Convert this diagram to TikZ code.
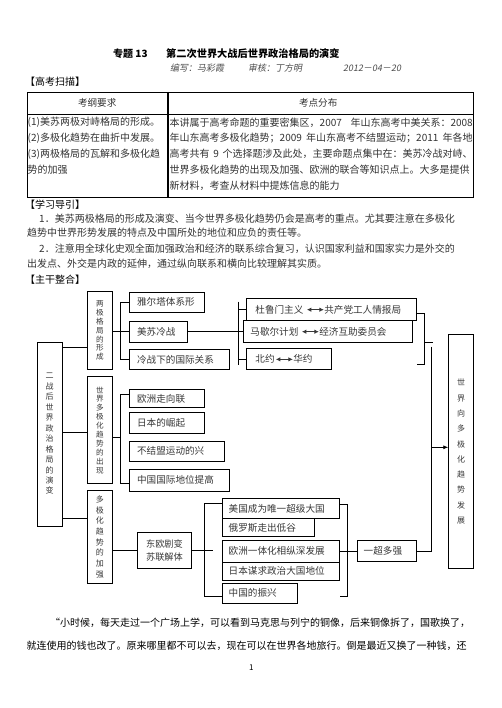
\documentclass[tikz,border=0pt]{standalone}
\usepackage{fontspec}
\setmainfont{Noto Sans CJK SC}
\newfontfamily\slfont[FakeSlant=0.18]{Noto Sans CJK SC}
\usetikzlibrary{arrows.meta}
\XeTeXlinebreaklocale "zh"
\XeTeXlinebreakskip=0pt plus 1fil
\newcommand{\jw}[2]{\hbox to #1pt{#2}}
\newcommand{\bc}[3]{\hbox to #1pt{\hskip#2pt\relax#3\hss}}
\newcommand{\dar}[1]{\tikz[baseline=-3.5pt]\draw[line width=0.9pt,{Latex[length=4.5pt,width=4.5pt]}-{Latex[length=4.5pt,width=4.5pt]}] (0pt,0pt) -- (#1pt,0pt);}
\begin{document}
\begin{tikzpicture}[x=1pt,y=-1pt,
  txt/.style={inner sep=0pt, anchor=west, text=black!80, font=\fontsize{10}{12}\selectfont},
  bx/.style={draw=black, line width=0.8pt, inner sep=0pt, anchor=north west, text=black!78, font=\fontsize{9.6}{12}\selectfont},
  vbx/.style={draw=black, line width=0.8pt, inner sep=0pt, anchor=north west, text=black!78, align=center},
  ln/.style={line width=0.8pt, draw=black}]
\useasboundingbox (0,0) rectangle (502,708);
\fill[white] (0,0) rectangle (502,708);

% ---- heading ----
\node[txt, text=black, font=\fontsize{10}{12}\selectfont\bfseries] (t1) at (113,54) {\hbox{专题 13}};
\node[txt, text=black, font=\fontsize{10.2}{12}\selectfont\bfseries] (t2) at (166,54) {\jw{175}{第二次世界大战后世界政治格局的演变}};
\node[txt, text=black!70, font=\fontsize{9}{12}\slfont] (s1) at (170,68) {\jw{55}{编写：马彩霞}};
\node[txt, text=black!70, font=\fontsize{9}{12}\slfont] (s2) at (248,68) {\jw{60}{审核：丁方明}};
\node[txt, text=black!70, font=\fontsize{9}{12}\slfont] (s3) at (343,68) {\hbox{2012－04－20}};
\node[txt, text=black] (g1) at (25,82) {\jw{62}{【高考扫描】}};

% ---- table ----
\draw[line width=0.8pt] (27,92) rectangle (473,197);
\draw[line width=0.8pt] (27,114) -- (473,114);
\draw[line width=1.4pt] (168,92) -- (168,197);
\node[txt, anchor=center, font=\fontsize{9.6}{12}\selectfont] (h1) at (97.5,102.5) {\jw{39}{考纲要求}};
\node[txt, anchor=center, font=\fontsize{9.6}{12}\selectfont] (h2) at (319.5,102.5) {\jw{41}{考点分布}};
\node[txt] (l1) at (27.5,122.7) {\jw{138}{(1)美苏两极对峙格局的形成。}};
\node[txt] (l2) at (27.5,138.5) {\jw{138}{(2)多极化趋势在曲折中发展。}};
\node[txt] (l3) at (27.5,154.2) {\jw{139}{(3)两极格局的瓦解和多极化趋}};
\node[txt] (l4) at (27.5,170) {\hbox{势的加强}};
\node[txt] (q1) at (169.5,122.7) {\jw{303}{本讲属于高考命题的重要密集区，2007 年山东高考中美关系：2008}};
\node[txt] (q2) at (169.5,138.5) {\jw{303}{年山东高考多极化趋势；2009 年山东高考不结盟运动；2011 年各地}};
\node[txt] (q3) at (169.5,154.2) {\jw{303}{高考共有 9 个选择题涉及此处，主要命题点集中在：美苏冷战对峙、}};
\node[txt] (q4) at (169.5,170) {\jw{303}{世界多极化趋势的出现及加强、欧洲的联合等知识点上。大多是提供}};
\node[txt] (q5) at (169.5,185.7) {\hbox{新材料，考查从材料中提炼信息的能力}};

% ---- guide ----
\node[txt, text=black] (g2) at (25,205) {\jw{62}{【学习导引】}};
\node[txt] (p1) at (39,219) {\hbox{1．美苏两极格局的形成及演变、当今世界多极化趋势仍会是高考的重点。尤其要注意在多极化}};
\node[txt] (p2) at (27,233) {\hbox{趋势中世界形势发展的特点及中国所处的地位和应负的责任等。}};
\node[txt] (p3) at (39,249) {\hbox{2．注意用全球化史观全面加强政治和经济的联系综合复习，认识国家利益和国家实力是外交的}};
\node[txt] (p4) at (27,264) {\hbox{出发点、外交是内政的延伸，通过纵向联系和横向比较理解其实质。}};
\node[txt, text=black] (g3) at (25,280) {\jw{62}{【主干整合】}};

% ---- diagram: vertical boxes ----
\node[vbx, minimum width=25.2, minimum height=183.8, font=\fontsize{8}{10.45}\selectfont] (V0) at (36.5,341.7) {二\\战\\后\\世\\界\\政\\治\\格\\局\\的\\演\\变};
\node[vbx, minimum width=25.6, minimum height=78.3, font=\fontsize{7.6}{8.9}\selectfont] (V1) at (86.7,291) {两\\极\\格\\局\\的\\形\\成};
\node[vbx, minimum width=25.6, minimum height=107, font=\fontsize{7.6}{8.9}\selectfont] (V2) at (86.7,376.3) {世\\界\\多\\极\\化\\趋\\势\\的\\出\\现};
\node[vbx, minimum width=25.6, minimum height=92.7, font=\fontsize{8}{10.7}\selectfont] (V3) at (86.7,490) {多\\极\\化\\趋\\势\\的\\加\\强};
\node[vbx, minimum width=25, minimum height=234, font=\fontsize{8}{15.3}\selectfont] (VR) at (448.3,334.3) {世\\界\\向\\多\\极\\化\\趋\\势\\发\\展};

% ---- diagram: boxes ----
\node[bx, minimum height=20] (A1) at (129.3,291.7) {\bc{74.7}{7.4}{\jw{60}{雅尔塔体系形}}};
\node[bx, minimum height=21] (A2) at (129.3,320.7) {\bc{58}{7.4}{\jw{40}{美苏冷战}}};
\node[bx, minimum height=20.3] (A3) at (129.3,349) {\bc{100}{7.4}{\jw{81.7}{冷战下的国际关系}}};
\node[bx, minimum height=21.7] (B1) at (246,298.3) {\bc{169.7}{9}{\jw{51}{杜鲁门主义}\dar{17}\jw{81}{共产党工人情报局}}};
\node[bx, minimum height=22.3] (B2) at (242.7,320) {\bc{169}{7.3}{\jw{51}{马歇尔计划}\dar{17}\jw{71.7}{经济互助委员会}}};
\node[bx, minimum height=21] (B3) at (246,348.3) {\bc{84.7}{9}{\jw{20}{北约}\dar{17}\jw{20}{华约}}};
\node[bx, minimum height=18] (C1) at (129.3,389) {\bc{74.7}{7.4}{\jw{60}{欧洲走向联}}};
\node[bx, minimum height=21] (C2) at (129.3,412.3) {\bc{74.7}{7.4}{\jw{50}{日本的崛起}}};
\node[bx, minimum height=20.3] (C3) at (129.3,440.7) {\bc{94.7}{7.4}{\jw{79.3}{不结盟运动的兴}}};
\node[bx, minimum height=21.7] (C4) at (129.3,469) {\bc{100}{7.4}{\jw{81.7}{中国国际地位提高}}};
\node[bx, minimum width=53.4, minimum height=35.4, align=center, font=\fontsize{9.2}{13.3}\selectfont] (D) at (137.3,532.3) {\jw{36.7}{东欧剧变}\\\jw{36.7}{苏联解体}};
\node[bx, minimum height=20.3] (E1) at (221.7,498) {\bc{117.6}{6.6}{\jw{101.7}{美国成为唯一超级大国}}};
\node[bx, minimum height=17.7] (E2) at (221.7,518.3) {\bc{92.1}{6.6}{\jw{71.7}{俄罗斯走出低谷}}};
\node[bx, minimum height=21.7] (E3) at (221.7,540) {\bc{117.6}{6.6}{\jw{101.7}{欧洲一体化相纵深发展}}};
\node[bx, minimum height=18.3] (E4) at (221.7,561.7) {\bc{117.6}{6.6}{\jw{101.7}{日本谋求政治大国地位}}};
\node[bx, minimum height=20] (E5) at (221.7,582.7) {\bc{75}{6.6}{\jw{50}{中国的振兴}}};
\node[bx, minimum height=21] (F) at (356.7,540) {\bc{59}{6.6}{\jw{41.7}{一超多强}}};

% ---- helper coordinates ----
\coordinate (k1) at (120,0);
\coordinate (k2) at (238.3,0);
\coordinate (k3) at (424,0);
\coordinate (k4) at (431.7,0);
\coordinate (k5) at (204.3,0);
\coordinate (k6) at (347.7,0);
\coordinate (k7) at (213.3,0);
\coordinate (k8) at (433,0);
\coordinate (r1) at (0,347.5);
\coordinate (r2) at (0,432.3);
\coordinate (r3) at (0,518.3);
\coordinate (r4) at (0,301.7);
\coordinate (r5) at (0,365);
\coordinate (r6) at (0,313.3);
\coordinate (r7) at (0,364);
\coordinate (r8) at (0,342.3);
\coordinate (r9) at (0,346.7);
\coordinate (r10) at (0,447.3);
\coordinate (r11) at (0,437.3);
\coordinate (r12) at (0,394.3);
\coordinate (r13) at (0,483.3);
\coordinate (r14) at (0,503.3);
\coordinate (r15) at (0,596.7);
\coordinate (r16) at (0,504.3);
\coordinate (r17) at (0,596);

% ---- connectors ----
\draw[ln] (V0.east |- r1) -- (V1.west |- r1);
\draw[ln] (V0.east |- r2) -- (V2.west |- r2);
\draw[ln] (V0.east |- r3) -- (V3.west |- r3);
\draw[ln] (V1.east |- A2.west) -- (A2.west);
\draw[ln] (A1.west) -- (A1.west -| k1) -- (A3.west -| k1) -- (A3.west);
\draw[ln] (A2.east) -- (B2.west |- A2.east);
\draw[ln] (k2 |- r4) -- (k2 |- r5);
\draw[ln] (B1.west -| k2) -- (B1.west);
\draw[ln] (B3.west -| k2) -- (B3.west);
\draw[ln] (B1.east |- r6) -- (k3 |- r6) -- (k3 |- r7) -- (B1.east |- r7);
\draw[ln] (k3 |- r8) -- (k8 |- r8);
\draw[ln] (k4 |- r9) -- (k4 |- F.east) -- (F.east);
\draw[ln, -{Latex[length=5pt,width=4pt]}] (k4 |- r10) -- (VR.west |- r10);
\draw[ln] (V2.east |- r11) -- (k1 |- r11);
\draw[ln] (C1.west |- r12) -- (k1 |- r12) -- (k1 |- r13) -- (C4.west |- r13);
\draw[ln] (V3.east |- D.west) -- (D.west);
\draw[ln] (D.east) -- (k7 |- D.east);
\draw[ln] (E1.west |- r14) -- (k5 |- r14) -- (k5 |- r15) -- (E5.west |- r15);
\draw[ln] (E1.east |- r16) -- (k6 |- r16) -- (k6 |- r17) -- (E1.east |- r17);
\draw[ln] (E3.east) -- (F.west |- E3.east);

% ---- bottom text ----
\node[txt, text=black] (b1) at (50,622.3) {\jw{423.5}{“小时候，每天走过一个广场上学，可以看到马克思与列宁的铜像，后来铜像拆了，国歌换了，}};
\node[txt, text=black] (b2) at (26.5,646) {\jw{447}{就连使用的钱也改了。原来哪里都不可以去，现在可以在世界各地旅行。倒是最近又换了一种钱，还}};
\node[txt, text=black, font=\fontsize{8}{10}\selectfont] (pg) at (249,667.7) {1};
\end{tikzpicture}
\end{document}
